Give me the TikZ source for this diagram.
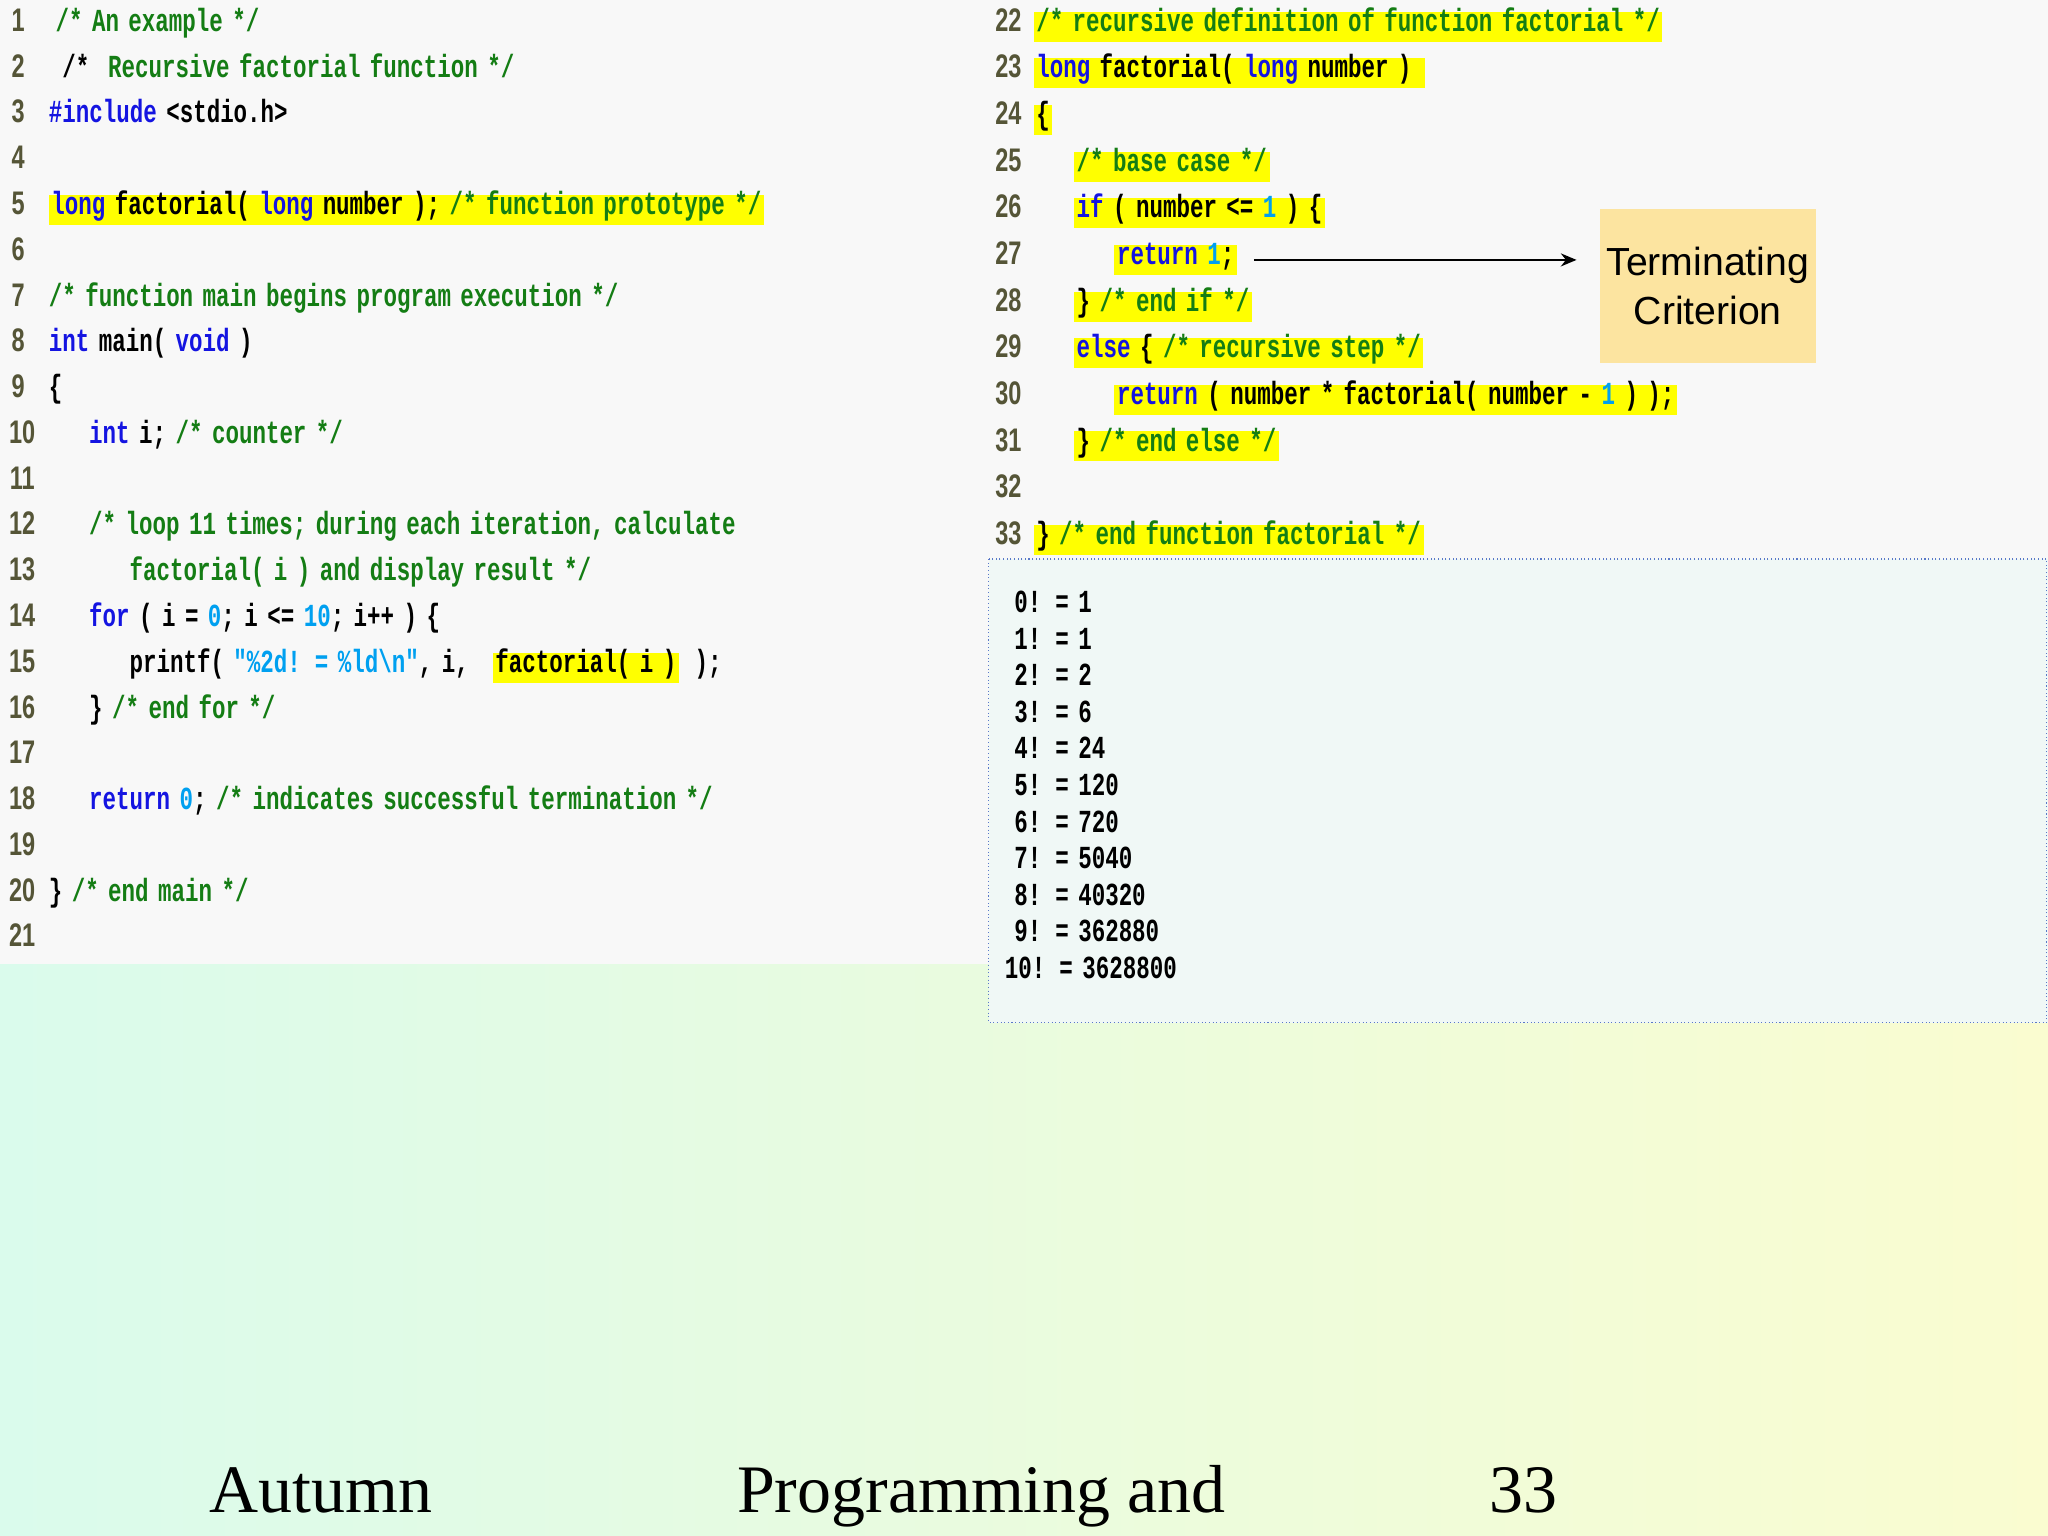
\documentclass[tikz,border=0pt]{standalone}
\usepackage{fontspec}
\setmainfont{Liberation Serif}
\newfontfamily\codefont[FakeStretch=0.7,WordSpace=0.7]{Liberation Mono}
\newfontfamily\numfont[FakeStretch=0.72]{Liberation Sans}
\newfontfamily\boxfont{Liberation Sans}
\usetikzlibrary{arrows.meta}
\definecolor{kwc}{RGB}{20,20,225}
\definecolor{cmc}{RGB}{20,125,20}
\definecolor{nmc}{RGB}{0,160,240}
\definecolor{lnc}{RGB}{85,85,55}
\definecolor{hlc}{RGB}{255,255,0}
\definecolor{bgg}{RGB}{248,248,248}
\definecolor{outbg}{RGB}{240,248,246}
\definecolor{crit}{RGB}{252,228,160}
\newcommand\kw[1]{\textcolor{kwc}{#1}}
\newcommand\cm[1]{\textcolor{cmc}{#1}}
\newcommand\nm[1]{\textcolor{nmc}{#1}}
\tikzset{
 code/.style={anchor=base west,inner sep=0pt,font=\codefont\fontsize{12.3}{14}\selectfont\bfseries},
 hl/.style={code,fill=hlc,inner xsep=1pt,text height=7.5pt,text depth=4pt},
 lnum/.style={anchor=base,inner sep=0pt,font=\numfont\fontsize{12.5}{14}\selectfont\bfseries,text=lnc},
}
% #1 name, #2 x0, #3 indent chars, #4 line y center, #5 style, #6 text
\newcommand\codeln[6]{\node[#5] (#1) at ({#2+#3*10.3},{#4+7}) {#6};}
\begin{document}
\begin{tikzpicture}[x=0.5pt,y=-0.5pt]
\useasboundingbox (0,0) rectangle (1568,1176);
\shade[left color={rgb,255:red,218;green,251;blue,236},right color={rgb,255:red,250;green,252;blue,208}] (0,0) rectangle (1568,1176);
\fill[bgg] (0,0) rectangle (757,738);
\fill[bgg] (757,0) rectangle (1568,428);
\fill[outbg] (757,428) rectangle (1568,783);
\draw[densely dotted,color={rgb,255:red,90;green,120;blue,200}] (757,428) rectangle (1567,783);
% line numbers
\foreach \i in {1,...,21}{
 \node[lnum] (n\i) at ({\i<10 ? 14 : 17},{17+(\i-1)*35.05+7}) {\i};
}
\foreach \i in {22,...,33}{
 \node[lnum] (n\i) at (772,{17+(\i-22)*35.7+7}) {\i};
}
% left code
\codeln{c1}{37}{0.5}{17}{code}{\cm{/* An example */}}
\codeln{c2}{37}{1}{52.05}{code}{/*\ \ \cm{Recursive factorial function */}}
\codeln{c3}{37}{0}{87.1}{code}{\kw{\#include} <stdio.h>}
\codeln{c5}{37}{0}{157.2}{hl}{\kw{long} factorial( \kw{long} number ); \cm{/* function prototype */}}
\codeln{c7}{37}{0}{227.3}{code}{\cm{/* function main begins program execution */}}
\codeln{c8}{37}{0}{262.35}{code}{\kw{int} main( \kw{void} )}
\codeln{c9}{37}{0}{297.4}{code}{\{}
\codeln{c10}{37}{3}{332.45}{code}{\kw{int} i; \cm{/* counter */}}
\codeln{c12}{37}{3}{402.55}{code}{\cm{/* loop 11 times; during each iteration, calculate}}
\codeln{c13}{37}{6}{437.6}{code}{\cm{factorial( i ) and display result */}}
\codeln{c14}{37}{3}{472.65}{code}{\kw{for} ( i = \nm{0}; i <= \nm{10}; i++ ) \{}
\codeln{c15}{37}{6}{507.7}{code}{printf( \nm{"\%2d! = \%ld\textbackslash n"}, i,}
\codeln{c15b}{37}{33}{507.7}{hl}{factorial( i )}
\codeln{c15c}{37}{48}{507.7}{code}{);}
\codeln{c16}{37}{3}{542.75}{code}{\} \cm{/* end for */}}
\codeln{c18}{37}{3}{612.85}{code}{\kw{return} \nm{0}; \cm{/* indicates successful termination */}}
\codeln{c20}{37}{0}{682.95}{code}{\} \cm{/* end main */}}
% right code
\codeln{c22}{791}{0}{17}{hl}{\cm{/* recursive definition of function factorial */}}
\codeln{c23}{791}{0}{52.7}{hl}{\kw{long} factorial( \kw{long} number )\,\,}
\codeln{c24}{791}{0}{88.4}{hl}{\{}
\codeln{c25}{791}{3}{124.1}{hl}{\cm{/* base case */}}
\codeln{c26}{791}{3}{159.8}{hl}{\kw{if} ( number <= \nm{1} ) \{}
\codeln{c27}{791}{6}{195.5}{hl}{\kw{return} \nm{1};}
\codeln{c28}{791}{3}{231.2}{hl}{\} \cm{/* end if */}}
\codeln{c29}{791}{3}{266.9}{hl}{\kw{else} \{ \cm{/* recursive step */}}
\codeln{c30}{791}{6}{302.6}{hl}{\kw{return} ( number * factorial( number - \nm{1} ) );}
\codeln{c31}{791}{3}{338.3}{hl}{\} \cm{/* end else */}}
\codeln{c33}{791}{0}{409.7}{hl}{\} \cm{/* end function factorial */}}
% output
\foreach \t [count=\k from 0] in {{\ 0! = 1},{\ 1! = 1},{\ 2! = 2},{\ 3! = 6},{\ 4! = 24},{\ 5! = 120},{\ 6! = 720},{\ 7! = 5040},{\ 8! = 40320},{\ 9! = 362880},{10! = 3628800}}{
 \node[code] (o\k) at (769,{462+\k*28+7}) {\t};
}
% terminating criterion
\node[fill=crit,minimum width=165*0.5pt,minimum height=118*0.5pt,inner sep=0pt,align=center,font=\boxfont\fontsize{15}{18.5}\selectfont] (tc) at (1307.5,219) {Terminating\\Criterion};
\coordinate (as) at (960,199);
\coordinate (ae) at (1207,199);
\draw[-{Stealth[length=6pt,width=5pt]},line width=0.6pt] (as) -- (ae);
% footer
\node[anchor=base west,inner sep=0pt,font=\fontsize{26}{30}\selectfont] (f1) at (160,1158) {Autumn};
\node[anchor=base west,inner sep=0pt,font=\fontsize{26}{30}\selectfont] (f2) at (564,1158) {Programming and};
\node[anchor=base west,inner sep=0pt,font=\fontsize{26}{30}\selectfont] (f3) at (1140,1158) {33};
\end{tikzpicture}
\end{document}
